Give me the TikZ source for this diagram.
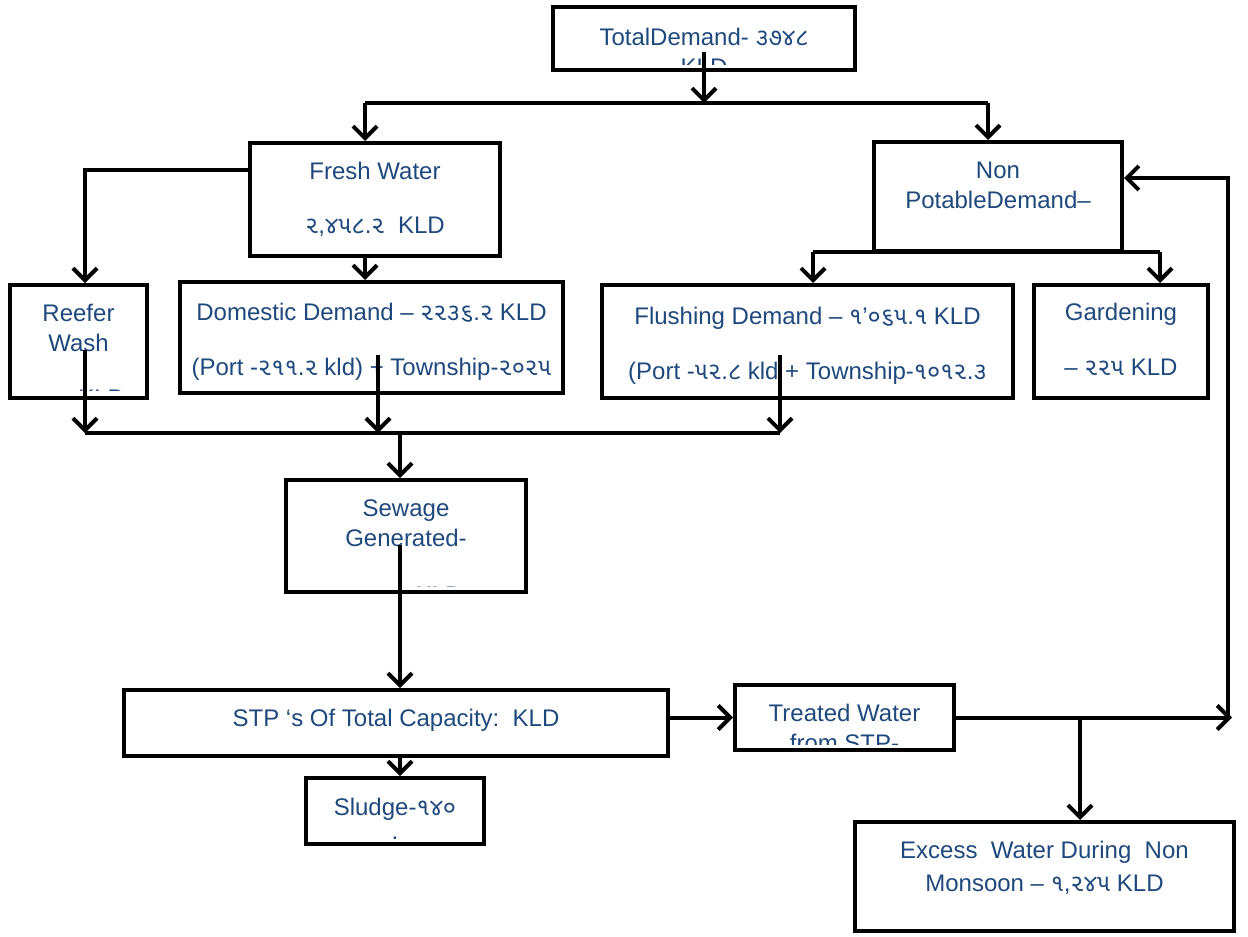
\documentclass[tikz,border=0pt]{standalone}
\usepackage{fontspec}
\setmainfont{Liberation Sans}
\newfontfamily\gujfont[Script=Gujarati]{Noto Sans Gujarati UI}
\newcommand{\gu}[1]{{\gujfont #1}}
\usetikzlibrary{arrows.meta}
\definecolor{textblue}{RGB}{31,73,125}

\begin{document}
\begin{tikzpicture}[x = 0.5pt, y = -0.5pt,
		box/.style = {draw, line width = 2pt, fill = white, inner sep = 0pt},
		txt/.style = {text = textblue, font = \fontsize{12}{15}\selectfont, align = center, anchor = base, inner sep = 0pt},
		pipe/.style = {line width = 2pt},
		flow/.style = {line width = 2pt, -{Straight Barb[length = 6pt, width = 12pt]}}]
	\useasboundingbox [fill = white] (0, 0) rectangle (1248, 937);

	\node [box, minimum width = 151pt, minimum height = 31.5pt] (total) at (704, 38.5) {};
	\node [box, minimum width = 125pt, minimum height = 56.5pt] (fresh) at (375, 199.5) {};
	\node [box, minimum width = 124pt, minimum height = 54.5pt] (nonpot) at (998, 196.5) {};
	\node [box, minimum width = 68.5pt, minimum height = 56.5pt] (reefer) at (78.5, 341.5) {};
	\node [box, minimum width = 191.5pt, minimum height = 55.5pt] (domestic) at (371.5, 337.5) {};
	\node [box, minimum width = 205.5pt, minimum height = 56.5pt] (flushing) at (807.5, 341.5) {};
	\node [box, minimum width = 87pt, minimum height = 56.5pt] (garden) at (1121, 341.5) {};
	\node [box, minimum width = 120pt, minimum height = 56pt] (sewage) at (406, 536) {};
	\node [box, minimum width = 272pt, minimum height = 33pt] (stp) at (396, 723) {};
	\node [box, minimum width = 89pt, minimum height = 33pt] (sludge) at (395, 811) {};
	\node [box, minimum width = 109.5pt, minimum height = 32.5pt] (treated) at (844.5, 717.5) {};
	\node [box, minimum width = 189.5pt, minimum height = 54.5pt] (excess) at (1044.5, 876.5) {};

	\begin{scope}
		\clip ([yshift = 4pt] total.south west) rectangle (total.north east);
		\node [txt] (total-t) at (704, 75) {TotalDemand- \gu{૩૭૪૮}\\KLD};
	\end{scope}
	\begin{scope}
		\clip ([yshift = 3pt] nonpot.south west) rectangle (nonpot.north east);
		\node [txt] (nonpot-t) at (998, 265) {Non\\PotableDemand–\\[13.5pt]\gu{૧},\gu{૨૯૦}.\gu{૧} KLD};
	\end{scope}
	\begin{scope}
		\clip ([yshift = 5pt] reefer.south west) rectangle (reefer.north east);
		\node [txt] (reefer-t) at (78.5, 406) {Reefer\\Wash\\[12.5pt]\gu{૨૨૨} KLD};
	\end{scope}
	\begin{scope}
		\clip ([yshift = 4pt] sewage.south west) rectangle (sewage.north east);
		\node [txt] (sewage-t) at (406, 603) {Sewage\\Generated-\\[13.5pt]\gu{૨},\gu{૫૧૯} KLD};
	\end{scope}
	\begin{scope}
		\clip ([yshift = 4pt] treated.south west) rectangle (treated.north east);
		\node [txt] (treated-t) at (844.5, 751) {Treated Water\\from STP-};
	\end{scope}

	\node [txt] (fresh-t) at (375, 233) {Fresh Water\\[12pt]\gu{૨},\gu{૪૫૮}.\gu{૨}\ \ KLD};
	\node [txt] (domestic-t) at (371.5, 375) {Domestic Demand – \gu{૨૨૩૬}.\gu{૨} KLD\\[12.5pt](Port -\gu{૨૧૧}.\gu{૨} kld) + Township-\gu{૨૦૨૫}};
	\node [txt] (flushing-t) at (807.5, 379) {Flushing Demand – \gu{૧}’\gu{૦૬૫}.\gu{૧} KLD\\[12.5pt](Port -\gu{૫૨}.\gu{૮} kld + Township-\gu{૧૦૧૨}.\gu{૩}};
	\node [txt] (garden-t) at (1121, 375) {Gardening\\[12.5pt]– \gu{૨૨૫} KLD};
	\node [txt] (stp-t) at (396, 726) {STP ‘s Of Total Capacity:\ \ KLD};
	\node [txt] (sludge-t) at (395, 839) {Sludge-\gu{૧૪૦}\\[-3pt].};
	\node [txt] (excess-t) at (1044.5, 891) {Excess\ \ Water During\ \ Non\\[1.5pt]Monsoon – \gu{૧},\gu{૨૪૫} KLD};

	\coordinate (split) at (704, 103);
	\coordinate (split-l) at (365, 103);
	\coordinate (split-r) at (988, 103);
	\coordinate (total-o) at (704, 52);
	\coordinate (fresh-l) at (85, 170);
	\coordinate (np-l) at (813, 252);
	\coordinate (np-r) at (1160, 252);
	\coordinate (reefer-o) at (85, 350);
	\coordinate (domestic-o) at (378, 355);
	\coordinate (flushing-o) at (780, 355);
	\coordinate (merge-l) at (85, 433);
	\coordinate (merge-r) at (780, 433);
	\coordinate (merge-m) at (400, 433);
	\coordinate (sewage-o) at (400, 545);
	\coordinate (ret-b) at (1228, 717);
	\coordinate (ret-t) at (1228, 178);
	\coordinate (excess-j) at (1080, 717);

	\draw [flow] (total-o) -- (split);
	\draw [pipe] (split-l) -- (split-r);
	\draw [flow] (split-l) -- (fresh.north -| split-l);
	\draw [flow] (split-r) -- (nonpot.north -| split-r);

	\draw [flow] (fresh.west |- fresh-l) -- (fresh-l) -- (reefer.north -| fresh-l);
	\draw [flow] (fresh.south -| split-l) -- (domestic.north -| split-l);

	\draw [pipe] (np-l) -- (np-r);
	\draw [flow] (np-l) -- (flushing.north -| np-l);
	\draw [flow] (np-r) -- (garden.north -| np-r);

	\draw [flow] (reefer-o) -- (merge-l);
	\draw [flow] (domestic-o) -- (domestic-o |- merge-l);
	\draw [flow] (flushing-o) -- (merge-r);
	\draw [pipe] (merge-l) -- (merge-r);
	\draw [flow] (merge-m) -- (sewage.north -| merge-m);

	\draw [flow] (sewage-o) -- (stp.north -| sewage-o);
	\draw [flow] (stp.south -| sewage-o) -- (sludge.north -| sewage-o);
	\draw [flow] (stp.east |- treated.west) -- (treated.west);

	\draw [flow] (treated.east) -- ([xshift = 2pt] treated.east -| ret-b);
	\draw [flow] (ret-b) -- (ret-t) -- (nonpot.east |- ret-t);
	\draw [flow] (treated.east -| excess-j) -- (excess.north -| excess-j);
\end{tikzpicture}
\end{document}
